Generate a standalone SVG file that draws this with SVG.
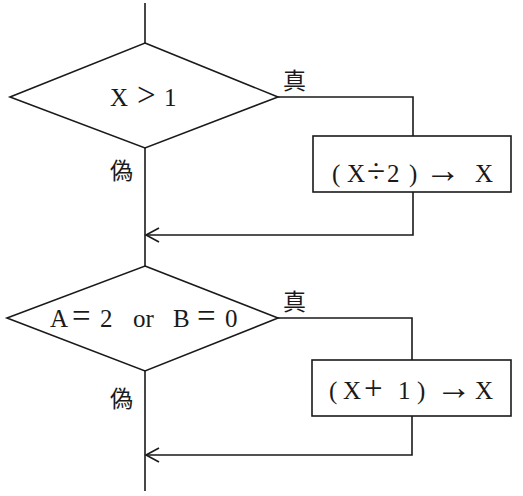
<svg xmlns="http://www.w3.org/2000/svg" width="523" height="496" viewBox="0 0 523 496">
<style>
.shape{fill:#fff;stroke:#1a1a1a;stroke-width:1.6}
.line{fill:none;stroke:#1a1a1a;stroke-width:1.6}
.t{font-family:"Liberation Serif","Noto Sans CJK JP",serif;font-size:25px;fill:#1a1a1a}
.op{font-size:33px}
.ar{font-size:36px}
.k{font-family:"Noto Sans CJK JP",sans-serif;font-size:23px;fill:#1a1a1a}
</style>
<defs>
<marker id="arr" markerWidth="16" markerHeight="16" refX="14" refY="8" orient="auto" markerUnits="userSpaceOnUse">
<path d="M1,1 L14,8 L1,15" fill="none" stroke="#1a1a1a" stroke-width="1.6"/>
</marker>
</defs>
<rect width="523" height="496" fill="#fff"/>
<g id="connectors">
<line class="line" x1="145" y1="3" x2="145" y2="43"/>
<line class="line" x1="145" y1="148" x2="145" y2="266"/>
<polyline class="line" points="278,97 413,97 413,136"/>
<polyline class="line" points="413,192 413,235 146,235" marker-end="url(#arr)"/>
<line class="line" x1="145" y1="371" x2="145" y2="491"/>
<polyline class="line" points="278,318 412,318 412,360"/>
<polyline class="line" points="412,416 412,455 146,455" marker-end="url(#arr)"/>
</g>
<g id="decision1">
<polygon class="shape" points="145,43 278,97 145,148 10,97"/>
<text class="t" y="106"><tspan x="110">X</tspan><tspan class="op" x="137">&gt;</tspan><tspan x="164">1</tspan></text>
</g>
<g id="label-true1"><text class="k" x="283" y="89">真</text></g>
<g id="label-false1"><text class="k" x="110" y="179">偽</text></g>
<g id="process1">
<rect class="shape" x="313" y="136" width="198" height="56"/>
<text class="t" y="182"><tspan x="332">(</tspan><tspan x="347">X</tspan><tspan class="op" x="367">÷</tspan><tspan x="387">2</tspan><tspan x="409">)</tspan><tspan class="ar" x="425">→</tspan><tspan x="475">X</tspan></text>
</g>
<g id="decision2">
<polygon class="shape" points="145,266 278,318 145,371 7,318"/>
<text class="t" y="327"><tspan x="50">A</tspan><tspan class="op" x="72">=</tspan><tspan x="100">2</tspan><tspan x="133">or</tspan><tspan x="173">B</tspan><tspan class="op" x="197">=</tspan><tspan x="225">0</tspan></text>
</g>
<g id="label-true2"><text class="k" x="283" y="310">真</text></g>
<g id="label-false2"><text class="k" x="110" y="407">偽</text></g>
<g id="process2">
<rect class="shape" x="312" y="360" width="199" height="56"/>
<text class="t" y="399"><tspan x="329">(</tspan><tspan x="343">X</tspan><tspan class="op" x="364">+</tspan><tspan x="398">1</tspan><tspan x="417">)</tspan><tspan class="ar" x="436">→</tspan><tspan x="475">X</tspan></text>
</g>
</svg>
